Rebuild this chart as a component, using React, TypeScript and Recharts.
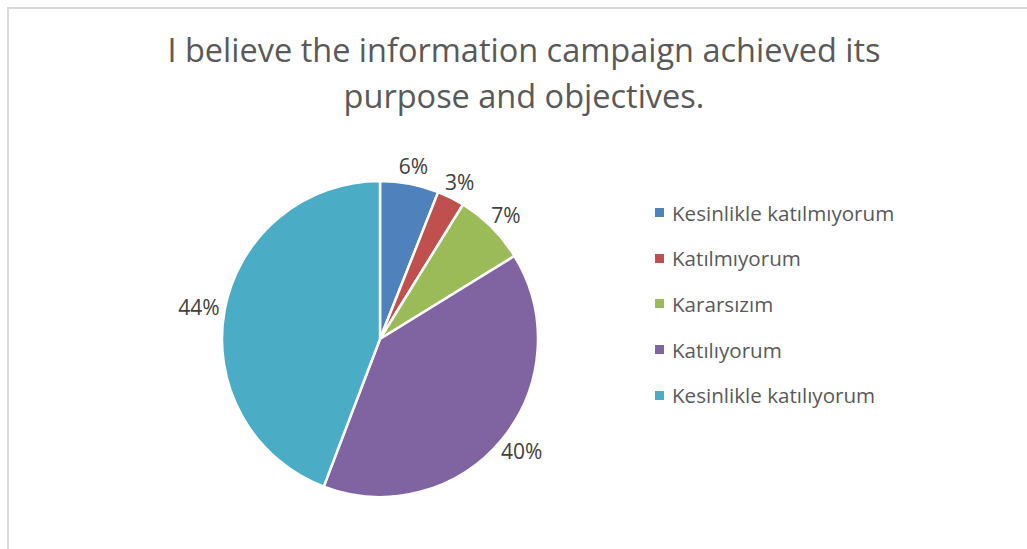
import React from "react";
import { PieChart, Pie, Cell, Legend } from "recharts";

const categories = [
  "Kesinlikle katılmıyorum",
  "Katılmıyorum",
  "Kararsızım",
  "Katılıyorum",
  "Kesinlikle katılıyorum",
];
const values = [6.0, 2.8, 7.4, 39.6, 44.2];
const colors = ["#4F81BD", "#C0504D", "#9BBB59", "#8064A2", "#4BACC6"];
const titleLines = [
  "I believe the information campaign achieved its",
  "purpose and objectives.",
];

const data = categories.map((name, i) => ({ name, value: values[i] }));

const FONT = "'Open Sans', 'Noto Sans', sans-serif";
const RAD = Math.PI / 180;

const renderLabel = (props: any) => {
  const { cx, cy, midAngle, outerRadius, percent } = props;
  const text = `${Math.round(percent * 100)}%`;
  const w = text.length * 12;
  const h = 20;
  const c = Math.cos(-midAngle * RAD);
  const s = Math.sin(-midAngle * RAD);
  const r = outerRadius + 8;
  const x = cx + r * c + c * (w / 2);
  const y = cy + r * s + s * (h / 2);
  return (
    <text
      x={x}
      y={y}
      textAnchor="middle"
      dominantBaseline="central"
      fill="#404040"
      fontSize={21}
      fontFamily={FONT}
    >
      {text}
    </text>
  );
};

const renderLegend = () => {
  return (
    <div style={{ fontFamily: FONT }}>
      {categories.map((name, i) => (
        <div
          key={name}
          style={{ display: "flex", alignItems: "center", height: 45.6 }}
        >
          <span
            style={{
              display: "inline-block",
              width: 9,
              height: 9,
              background: colors[i],
              marginRight: 8,
            }}
          />
          <span style={{ fontSize: 20.6, color: "#595959" }}>{name}</span>
        </div>
      ))}
    </div>
  );
};

export default function App() {
  return (
    <div
      style={{
        position: "absolute",
        left: 7,
        top: 7,
        width: 1019,
        height: 541,
        borderTop: "2px solid #d9d9d9",
        borderLeft: "2px solid #d9d9d9",
        background: "#fff",
        overflow: "hidden",
      }}
    >
      <div
        style={{
          position: "absolute",
          left: 0,
          top: 0,
          width: 1030,
          textAlign: "center",
          fontFamily: FONT,
          color: "#595959",
          fontSize: 32.5,
          lineHeight: "46px",
          paddingTop: 18,
        }}
      >
        {titleLines.map((t, i) => (
          <div key={i}>{t}</div>
        ))}
      </div>
      <div style={{ position: "absolute", left: 0, top: 0 }}>
        <PieChart width={1019} height={541}>
          <Pie
            data={data}
            dataKey="value"
            nameKey="name"
            cx={366}
            cy={325}
            outerRadius={158}
            startAngle={90}
            endAngle={-270}
            stroke="#ffffff"
            strokeWidth={2.5}
            label={renderLabel}
            labelLine={false}
            isAnimationActive={false}
          >
            {data.map((d, i) => (
              <Cell key={d.name} fill={colors[i]} />
            ))}
          </Pie>
          <Legend
            layout="vertical"
            content={renderLegend}
            wrapperStyle={{ position: "absolute", left: 646, top: 181, width: 340 }}
          />
        </PieChart>
      </div>
    </div>
  );
}
